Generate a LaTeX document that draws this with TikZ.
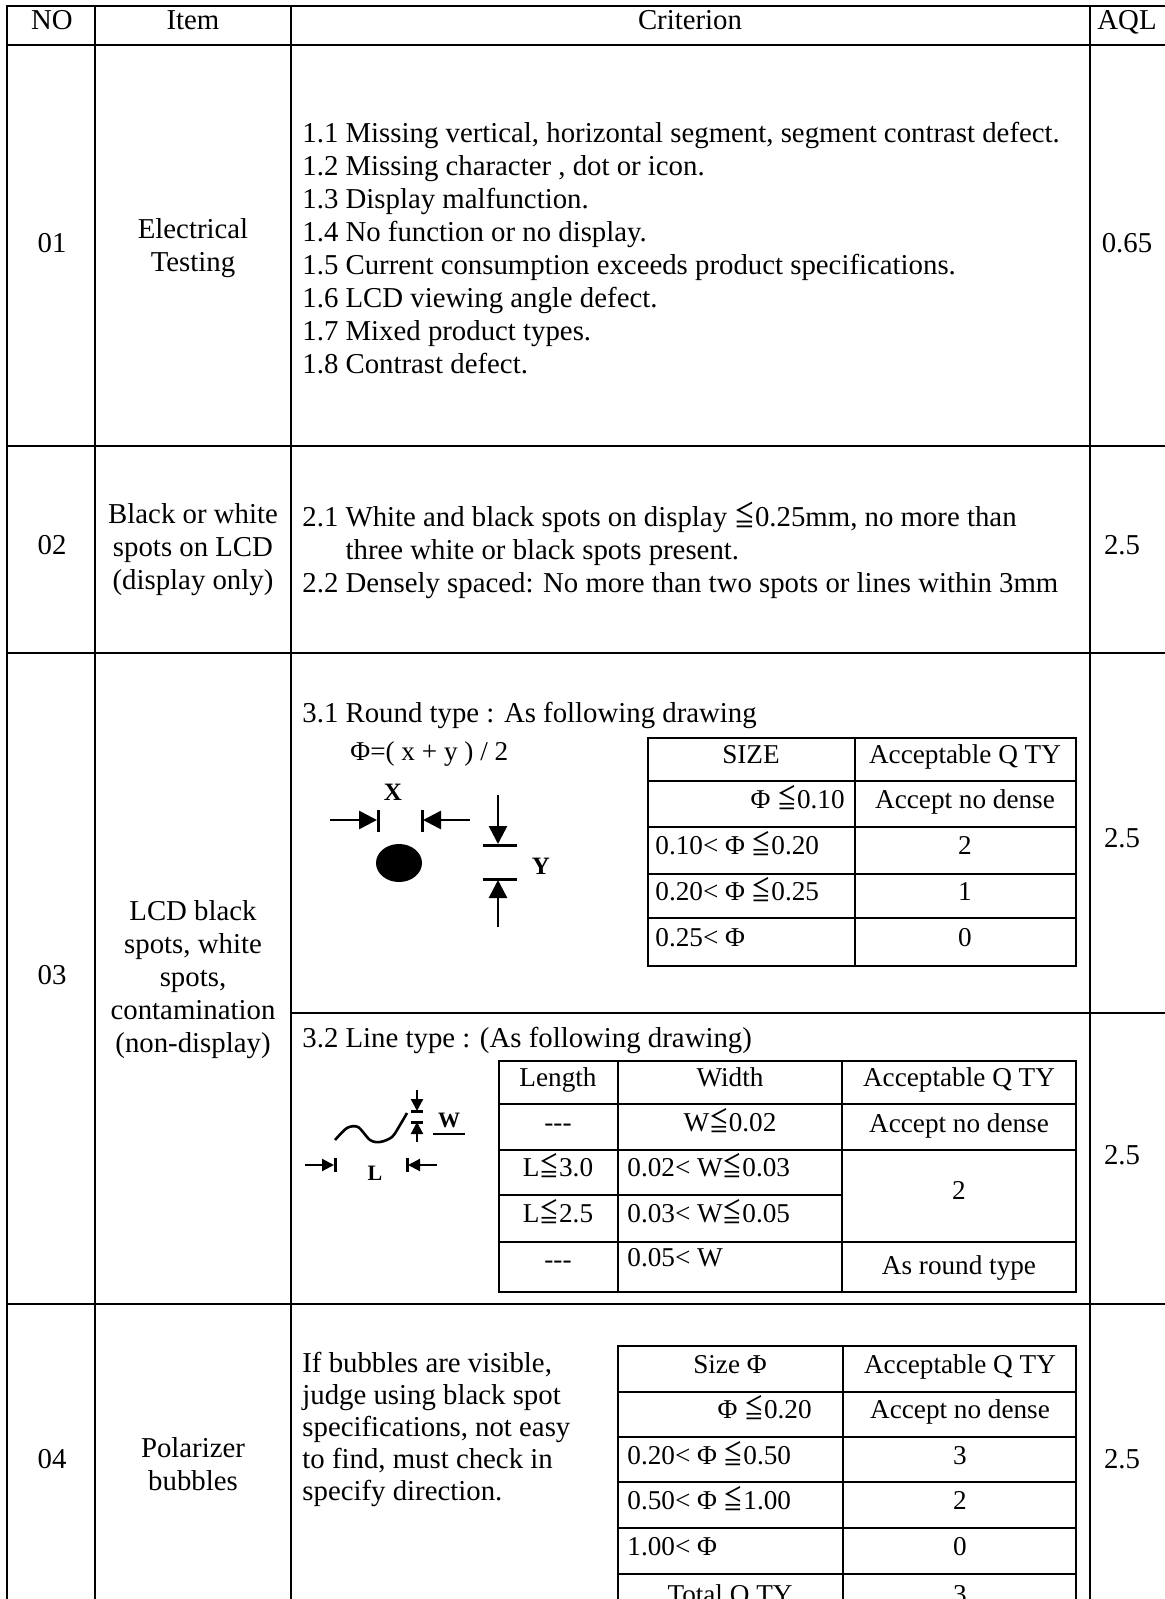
\documentclass[tikz,border=0pt]{standalone}
\usepackage{fontspec}
\setmainfont{Liberation Serif}
\newfontfamily\symfont{Noto Sans CJK TC}
\usepackage{tikz}
\usetikzlibrary{arrows.meta}

\newcommand\leqs{\scalebox{0.72}[1]{\symfont ≦}}

\begin{document}
\begin{tikzpicture}[
    x=0.5pt, y=-0.5pt,
    rule/.style={line width=1pt},
    txt/.style={inner sep=0pt, font=\fontsize{14.4}{16.5}\selectfont},
    one/.style={txt, text height=0.68em, text depth=0.2em},
    cell/.style={one, align=center},
    tab/.style={inner sep=0pt, text height=0.68em, text depth=0.2em, font=\fontsize{13.6}{15}\selectfont},
    tabc/.style={tab, align=center},
    para/.style={txt, align=left, anchor=west},
    lbl/.style={inner sep=0pt, font=\fontsize{12.5}{12.5}\selectfont\bfseries},
    tip/.style={line width=1.3pt, -{Triangle[length=9pt,width=9pt]}},
    tipsm/.style={line width=1.1pt, -{Triangle[length=6pt,width=6pt]}},
    stopbar/.style={line width=1.5pt}
  ]
  \useasboundingbox (0,0) rectangle (1165,1599);
  \clip (0,0) rectangle (1165,1599);

  % frame
  \draw[rule] (1170,6) -- (7,6) -- (7,1640);
  \draw[rule] (95,6) -- (95,1640);
  \draw[rule] (291,6) -- (291,1640);
  \draw[rule] (1090,6) -- (1090,1640);
  \draw[rule] (7,45) -- (1170,45);
  \draw[rule] (7,446) -- (1170,446);
  \draw[rule] (7,653) -- (1170,653);
  \draw[rule] (291,1013) -- (1170,1013);
  \draw[rule] (7,1304) -- (1170,1304);

  % header
  \node[cell] (hno) at (52,25) {NO};
  \node[cell] (hitem) at (193,25) {Item};
  \node[cell] (hcrit) at (690,25) {Criterion};
  \node[cell] (haql) at (1127,25) {AQL};

  % row 01
  \node[cell] (no1) at (52,248) {01};
  \node[txt, align=center] (item1) at (193,248) {Electrical\\Testing};
  \node[para] (crit1) at (302,248) {1.1 Missing vertical, horizontal segment, segment contrast defect.\\
    1.2 Missing character , dot or icon.\\
    1.3 Display malfunction.\\
    1.4 No function or no display.\\
    1.5 Current consumption exceeds product specifications.\\
    1.6 LCD viewing angle defect.\\
    1.7 Mixed product types.\\
    1.8 Contrast defect.};
  \node[cell] (aql1) at (1127,248) {0.65};

  % row 02
  \node[cell] (no2) at (52,550) {02};
  \node[txt, align=center] (item2) at (193,550) {Black or white\\spots on LCD\\(display only)};
  \node[para] (crit2) at (302,550) {2.1 White and black spots on display \leqs0.25mm, no more than\\
    \hphantom{2.1\ }three white or black spots present.\\
    2.2 Densely spaced: No more than two spots or lines within 3mm};
  \node[cell] (aql2) at (1122,550) {2.5};

  % row 03
  \node[cell] (no3) at (52,980) {03};
  \node[txt, align=center] (item3) at (193,980) {LCD black\\spots, white\\spots,\\contamination\\(non-display)};

  % 3.1 round type
  \node[one, anchor=west] (round) at (302,718) {3.1 Round type : As following drawing};
  \node[tab, anchor=west] (phi) at (350,756) {Φ=( x + y ) / 2};
  \node[lbl] (xlab) at (393,792) {X};
  \draw[tip] (330,820) -- (377,820);
  \draw[stopbar] (378,810) -- (378,832);
  \draw[tip] (470,820) -- (423,820);
  \draw[stopbar] (422,810) -- (422,832);
  \fill (399,863) ellipse [x radius=11.5pt, y radius=9.5pt];
  \draw[tip] (498,795) -- (498,844);
  \draw[stopbar] (483,845) -- (517,845);
  \draw[stopbar] (483,879) -- (517,879);
  \draw[tip] (498,927) -- (498,880);
  \node[lbl] (ylab) at (541,866) {Y};

  \draw[rule] (648,738) rectangle (1076,966);
  \draw[rule] (855,738) -- (855,966);
  \draw[rule] (648,781) -- (1076,781);
  \draw[rule] (648,827) -- (1076,827);
  \draw[rule] (648,874) -- (1076,874);
  \draw[rule] (648,918) -- (1076,918);
  \node[tabc] (sz0a) at (751,759) {SIZE};
  \node[tabc] (sz0b) at (965,759) {Acceptable Q TY};
  \node[tab, anchor=east] (sz1a) at (845,804) {Φ \leqs0.10};
  \node[tabc] (sz1b) at (965,804) {Accept no dense};
  \node[tab, anchor=west] (sz2a) at (655,850) {0.10< Φ \leqs0.20};
  \node[tabc] (sz2b) at (965,850) {2};
  \node[tab, anchor=west] (sz3a) at (655,896) {0.20< Φ \leqs0.25};
  \node[tabc] (sz3b) at (965,896) {1};
  \node[tab, anchor=west] (sz4a) at (655,942) {0.25< Φ};
  \node[tabc] (sz4b) at (965,942) {0};
  \node[cell] (aql31) at (1122,843) {2.5};

  % 3.2 line type
  \node[one, anchor=west] (line) at (302,1043) {3.2 Line type : (As following drawing)};
  \draw[line width=1.3pt] plot[smooth] coordinates {(335,1140) (347,1128) (358,1127) (370,1140) (380,1142) (392,1137) (400,1125) (407,1113)};
  \draw[tipsm] (417,1090) -- (417,1111);
  \draw[stopbar] (411,1111) -- (423,1111);
  \draw[stopbar] (411,1122) -- (423,1122);
  \draw[tipsm] (417,1142) -- (417,1122);
  \node[lbl, font=\fontsize{11}{11}\selectfont\bfseries] (wlab) at (449,1120) {W};
  \draw[line width=0.6pt] (433,1134) -- (465,1134);
  \draw[tipsm] (305,1165) -- (334,1165);
  \draw[stopbar] (335,1158) -- (335,1172);
  \draw[tipsm] (437,1165) -- (408,1165);
  \draw[stopbar] (407,1158) -- (407,1172);
  \node[lbl, font=\fontsize{11}{11}\selectfont\bfseries] (llab) at (375,1173) {L};

  \draw[rule] (499,1061) rectangle (1076,1292);
  \draw[rule] (618,1061) -- (618,1292);
  \draw[rule] (842,1061) -- (842,1292);
  \draw[rule] (499,1104) -- (1076,1104);
  \draw[rule] (499,1150) -- (1076,1150);
  \draw[rule] (499,1195) -- (842,1195);
  \draw[rule] (499,1242) -- (1076,1242);
  \node[tabc] (ln0a) at (558,1082) {Length};
  \node[tabc] (ln0b) at (730,1082) {Width};
  \node[tabc] (ln0c) at (959,1082) {Acceptable Q TY};
  \node[tabc] (ln1a) at (558,1127) {-{}-{}-};
  \node[tabc] (ln1b) at (730,1127) {W\leqs0.02};
  \node[tabc] (ln1c) at (959,1128) {Accept no dense};
  \node[tabc] (ln2a) at (558,1172) {L\leqs3.0};
  \node[tab, anchor=west] (ln2b) at (627,1172) {0.02< W\leqs0.03};
  \node[tabc] (ln23c) at (959,1195) {2};
  \node[tabc] (ln3a) at (558,1218) {L\leqs2.5};
  \node[tab, anchor=west] (ln3b) at (627,1218) {0.03< W\leqs0.05};
  \node[tabc] (ln4a) at (558,1264) {-{}-{}-};
  \node[tab, anchor=west] (ln4b) at (627,1262) {0.05< W};
  \node[tabc] (ln4c) at (959,1270) {As round type};
  \node[cell] (aql32) at (1122,1160) {2.5};

  % row 04
  \node[cell] (no4) at (52,1464) {04};
  \node[txt, align=center] (item4) at (193,1464) {Polarizer\\bubbles};
  \node[para, font=\fontsize{14.4}{16}\selectfont] (crit4) at (302,1429) {If bubbles are visible,\\
    judge using black spot\\
    specifications, not easy\\
    to find, must check in\\
    specify direction.};
  \node[cell] (aql4) at (1122,1464) {2.5};

  \draw[rule] (618,1346) rectangle (1076,1640);
  \draw[rule] (843,1346) -- (843,1640);
  \draw[rule] (618,1392) -- (1076,1392);
  \draw[rule] (618,1437) -- (1076,1437);
  \draw[rule] (618,1482) -- (1076,1482);
  \draw[rule] (618,1528) -- (1076,1528);
  \draw[rule] (618,1574) -- (1076,1574);
  \draw[rule] (618,1620) -- (1076,1620);
  \node[tabc] (bb0a) at (730,1369) {Size Φ};
  \node[tabc] (bb0b) at (960,1369) {Acceptable Q TY};
  \node[tab, anchor=east] (bb1a) at (812,1414) {Φ \leqs0.20};
  \node[tabc] (bb1b) at (960,1414) {Accept no dense};
  \node[tab, anchor=west] (bb2a) at (627,1460) {0.20< Φ \leqs0.50};
  \node[tabc] (bb2b) at (960,1460) {3};
  \node[tab, anchor=west] (bb3a) at (627,1505) {0.50< Φ \leqs1.00};
  \node[tabc] (bb3b) at (960,1505) {2};
  \node[tab, anchor=west] (bb4a) at (627,1551) {1.00< Φ};
  \node[tabc] (bb4b) at (960,1551) {0};
  \node[tabc] (bb5a) at (730,1599) {Total Q TY};
  \node[tabc] (bb5b) at (960,1599) {3};
\end{tikzpicture}
\end{document}
